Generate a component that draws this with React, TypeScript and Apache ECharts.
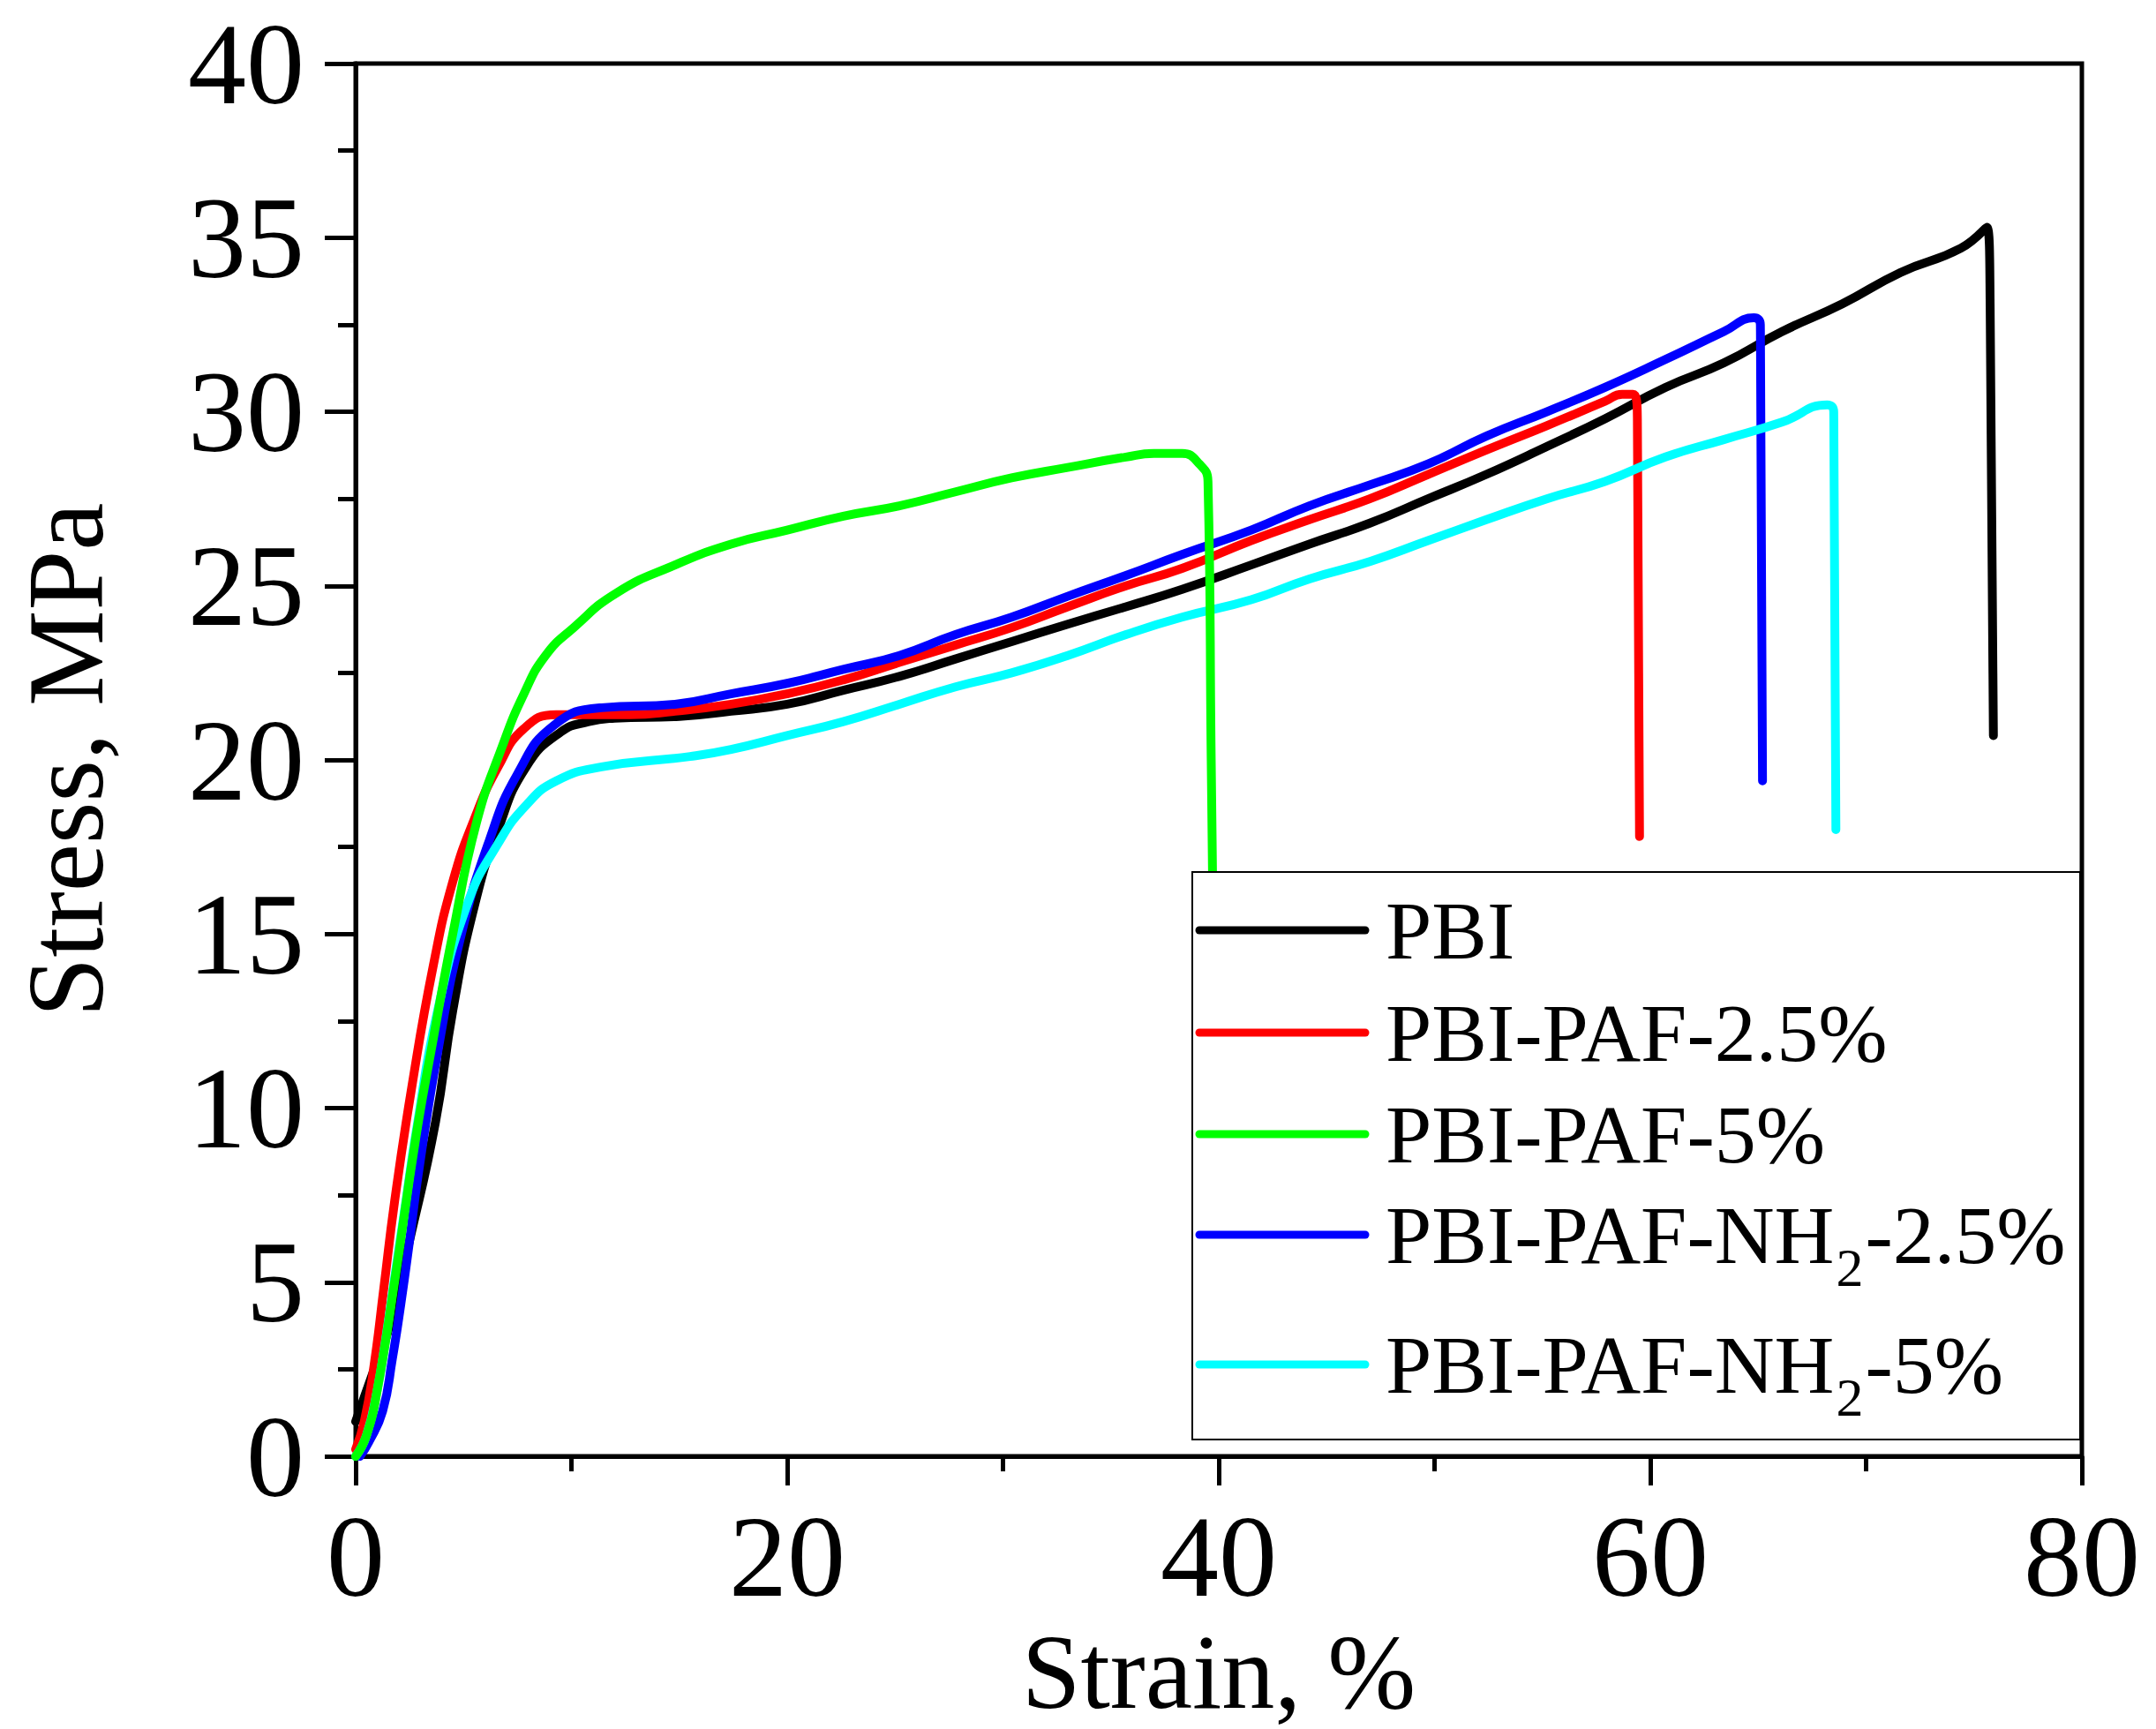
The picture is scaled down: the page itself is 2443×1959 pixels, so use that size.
import React, { useEffect, useRef } from "react";
import * as echarts from "echarts";

// [strain %, stress MPa]
const pbiData = [
  [0, 1.0], [0.4, 1.7], [0.8, 2.4], [1.5, 3.6], [2.5, 6.2], [3.7, 9.6], [4.5, 12.8],
  [5.5, 15.8], [6.6, 18.0], [7.9, 19.8], [9.5, 20.8], [10.8, 21.1], [12.0, 21.2],
  [15.0, 21.25], [17.4, 21.4], [20.0, 21.6], [22.6, 22.0], [25.2, 22.4], [27.8, 22.9],
  [30.4, 23.4], [33.0, 23.9], [35.7, 24.4], [38.3, 24.9], [41.5, 25.6], [44.2, 26.2],
  [47.0, 26.8], [49.7, 27.5], [52.4, 28.2], [55.2, 29.0], [57.9, 29.8], [60.7, 30.7],
  [63.4, 31.4], [66.1, 32.3], [68.9, 33.1], [71.6, 34.0], [74.4, 34.7], [75.6, 35.3],
  [75.75, 33.0], [75.9, 20.7],
];
const paf25Data = [
  [0, 0.2], [0.4, 1.0], [0.85, 2.6], [1.3, 4.8], [1.8, 7.3], [2.6, 10.6], [3.6, 14.1],
  [4.5, 16.5], [5.5, 18.3], [6.6, 19.8], [7.8, 20.9], [9.3, 21.3], [11.0, 21.3],
  [12.7, 21.3], [14.8, 21.4], [17.4, 21.6], [20.0, 21.9], [22.6, 22.3], [25.2, 22.8],
  [27.8, 23.3], [30.4, 23.8], [33.0, 24.4], [35.7, 25.0], [38.3, 25.5], [41.5, 26.3],
  [44.2, 26.9], [47.0, 27.5], [49.7, 28.2], [52.4, 28.9], [55.2, 29.6], [57.9, 30.3],
  [58.7, 30.5], [59.2, 30.5], [59.4, 29.8], [59.5, 17.8],
];
const paf5Data = [
  [0, 0], [0.5, 0.6], [1.0, 1.9], [1.8, 5.0], [2.8, 9.2], [3.6, 12.0], [4.5, 15.0],
  [5.6, 18.2], [6.8, 20.4], [7.8, 21.9], [8.8, 23.0], [10.1, 23.8], [12.1, 24.8],
  [14.8, 25.6], [17.4, 26.2], [20.0, 26.6], [22.6, 27.0], [25.2, 27.3], [27.8, 27.7],
  [30.4, 28.1], [33.0, 28.4], [35.7, 28.7], [37.0, 28.8], [38.3, 28.8], [39.1, 28.5],
  [39.5, 28.0], [39.65, 20.0], [39.8, 12.0],
];
const nh25Data = [
  [0.2, 0], [0.6, 0.4], [1.25, 1.3], [1.7, 2.8], [2.1, 4.4], [2.5, 6.2], [2.9, 8.1],
  [3.8, 11.6], [4.9, 15.0], [6.2, 17.7], [7.5, 19.6], [9.2, 21.0], [11.4, 21.5],
  [14.8, 21.6], [17.4, 21.9], [20.0, 22.2], [22.6, 22.6], [25.2, 23.0], [27.8, 23.6],
  [30.4, 24.1], [33.0, 24.7], [35.7, 25.3], [38.3, 25.9], [41.5, 26.6], [44.2, 27.3],
  [47.0, 27.9], [49.7, 28.5], [52.4, 29.3], [55.2, 30.0], [57.9, 30.7], [60.7, 31.5],
  [63.4, 32.3], [64.8, 32.7], [65.1, 32.5], [65.2, 19.4],
];
const nh5Data = [
  [0, 0], [0.5, 0.6], [1.0, 1.9], [1.4, 3.4], [1.8, 5.1], [2.3, 7.2], [2.8, 9.3],
  [3.8, 12.8], [5.2, 15.9], [6.6, 17.6], [7.9, 18.7], [9.3, 19.4], [11.4, 19.8],
  [15.5, 20.1], [17.4, 20.3], [20.0, 20.7], [22.6, 21.1], [25.2, 21.6], [27.8, 22.1],
  [30.4, 22.5], [33.0, 23.0], [35.7, 23.6], [38.3, 24.1], [41.5, 24.6], [44.2, 25.2],
  [47.0, 25.7], [49.7, 26.3], [52.4, 26.9], [55.2, 27.5], [57.9, 28.0], [60.7, 28.7],
  [63.4, 29.2], [66.1, 29.7], [68.2, 30.2], [68.5, 30.0], [68.6, 18.0],
];

const seriesNames = ["PBI", "PBI-PAF-2.5%", "PBI-PAF-5%", "PBI-PAF-NH2-2.5%", "PBI-PAF-NH2-5%"];
const seriesColors = ["#000000", "#ff0000", "#00ff00", "#0000ff", "#00ffff"];
const seriesData = [pbiData, paf25Data, paf5Data, nh25Data, nh5Data];

const FONT = "Liberation Serif";

// legend layout (pixels)
const LEG_BOX = { x: 1351, y: 988, w: 1006, h: 643 };
const LEG_ROWS = [1054, 1170, 1285, 1399, 1546];
const LEG_FONT = 94;
const SUB_FONT = 62;
const LEG_Z = 100;

const measure = (text: string, size: number) => {
  const ctx = document.createElement("canvas").getContext("2d") as CanvasRenderingContext2D;
  ctx.font = `${size}px "${FONT}"`;
  return ctx.measureText(text).width;
};

const textEl = (text: string, x: number, y: number, size: number) => ({
  type: "text",
  z: LEG_Z + 2,
  x,
  y,
  style: {
    text,
    fontFamily: FONT,
    fontSize: size,
    fill: "#000",
    align: "left",
    verticalAlign: "middle",
    textAlign: "left",
    textVerticalAlign: "middle",
  },
});

const buildLegend = () => {
  const els: any[] = [
    {
      type: "rect",
      z: LEG_Z,
      shape: { x: LEG_BOX.x, y: LEG_BOX.y, width: LEG_BOX.w, height: LEG_BOX.h },
      style: { fill: "#fff", stroke: "#000", lineWidth: 2 },
    },
  ];
  seriesNames.forEach((name, i) => {
    const y = LEG_ROWS[i];
    els.push({
      type: "line",
      z: LEG_Z + 1,
      shape: { x1: LEG_BOX.x + 8, y1: y, x2: LEG_BOX.x + 196, y2: y },
      style: { stroke: seriesColors[i], lineWidth: 9, lineCap: "round" },
    });
    const tx = LEG_BOX.x + 219;
    const k = name.indexOf("NH2");
    if (k < 0) {
      els.push(textEl(name, tx, y, LEG_FONT));
    } else {
      const head = name.slice(0, k + 2);
      const tail = name.slice(k + 3);
      const w1 = measure(head, LEG_FONT);
      const w2 = measure("2", SUB_FONT);
      els.push(textEl(head, tx, y, LEG_FONT));
      els.push(textEl("2", tx + w1 + 2, y + 37, SUB_FONT));
      els.push(textEl(tail, tx + w1 + w2 + 4, y, LEG_FONT));
    }
  });
  return els;
};

const App = () => {
  const chartRef = useRef<HTMLDivElement>(null);

  useEffect(() => {
    const chart = echarts.init(chartRef.current as HTMLDivElement, null, { renderer: "svg" });

    const option = {
      animation: false,
      backgroundColor: "#ffffff",
      grid: {
        left: 403,
        right: 84,
        top: 72,
        bottom: 303,
        show: true,
        borderColor: "#000",
        borderWidth: 5,
      },
      xAxis: {
        type: "value",
        min: 0,
        max: 80,
        interval: 20,
        name: "Strain, %",
        nameLocation: "middle",
        nameGap: 165,
        nameTextStyle: { fontFamily: FONT, fontSize: 120, color: "#000" },
        axisLine: { show: true, lineStyle: { color: "#000", width: 5 } },
        axisTick: { show: true, inside: false, length: 33, lineStyle: { width: 5, color: "#000" } },
        minorTick: { show: true, splitNumber: 2, length: 17, lineStyle: { width: 5, color: "#000" } },
        axisLabel: { fontFamily: FONT, fontSize: 132, color: "#000", margin: 47 },
        splitLine: { show: false },
      },
      yAxis: {
        type: "value",
        min: 0,
        max: 40,
        interval: 5,
        name: "Stress, MPa",
        nameLocation: "middle",
        nameGap: 268,
        nameTextStyle: { fontFamily: FONT, fontSize: 122, color: "#000" },
        axisLine: { show: true, lineStyle: { color: "#000", width: 5 } },
        axisTick: { show: true, inside: false, length: 35, lineStyle: { width: 5, color: "#000" } },
        minorTick: { show: true, splitNumber: 2, length: 20, lineStyle: { width: 5, color: "#000" } },
        axisLabel: { fontFamily: FONT, fontSize: 132, color: "#000", margin: 58 },
        splitLine: { show: false },
      },
      graphic: { elements: buildLegend() },
      series: seriesNames.map((name, i) => ({
        name,
        type: "line",
        data: seriesData[i],
        showSymbol: false,
        symbol: "none",
        smooth: 0.5,
        color: seriesColors[i],
        lineStyle: { color: seriesColors[i], width: 10, cap: "round", join: "round" },
        z: i === 2 ? 3 : 2,
      })),
    };
    chart.setOption(option);

    return () => {
      chart.dispose();
    };
  }, []);

  return (
    <div
      ref={chartRef}
      style={{ position: "fixed", left: 0, top: 0, width: "2443px", height: "1959px", background: "#fff" }}
    />
  );
};

export default App;
